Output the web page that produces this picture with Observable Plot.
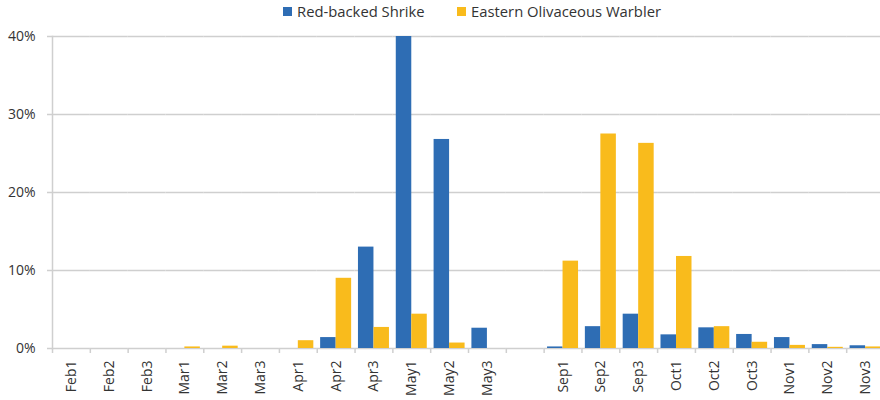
<!DOCTYPE html>
<html>
<head>
<meta charset="utf-8">
<script src="https://cdn.jsdelivr.net/npm/d3@7"></script>
<script src="https://cdn.jsdelivr.net/npm/@observablehq/plot@0.6"></script>
<style>
  html, body { margin: 0; padding: 0; background: #fff; }
  body { width: 880px; height: 400px; overflow: hidden; font-family: "Open Sans", sans-serif; color: #333; }
  #legend { height: 20px; position: relative; font-size: 14.8px; }
  .item { position: absolute; top: 2px; line-height: 18px; display: flex; align-items: center; white-space: nowrap; }
  .sw { width: 9px; height: 9px; margin-right: 5px; }
</style>
</head>
<body>
<div id="legend"></div>
<div id="chart"></div>
<script>
// Categories (ten-day periods); "" is the gap between spring and autumn
const categories = ["Feb1","Feb2","Feb3","Mar1","Mar2","Mar3","Apr1","Apr2","Apr3","May1","May2","May3","",
                    "Sep1","Sep2","Sep3","Oct1","Oct2","Oct3","Nov1","Nov2","Nov3"];
const speciesNames = ["Red-backed Shrike", "Eastern Olivaceous Warbler"];
const speciesColors = ["#2e6db4", "#f9bb1c"];
// Percent of captures per period (null = gap)
const shrikeValues = [0, 0, 0, 0, 0, 0, 0, 1.4, 13.0, 40.0, 26.8, 2.6, null,
                      0.2, 2.8, 4.4, 1.75, 2.65, 1.8, 1.4, 0.5, 0.35];
const warblerValues = [0, 0, 0, 0.2, 0.3, 0, 1.0, 9.0, 2.7, 4.4, 0.7, 0, null,
                       11.2, 27.5, 26.3, 11.8, 2.8, 0.8, 0.4, 0.15, 0.2];
const yTicks = [0, 0.1, 0.2, 0.3, 0.4];

const rows = [];
categories.forEach((c, i) => {
  rows.push({cat: c, species: speciesNames[0], value: shrikeValues[i] == null ? null : shrikeValues[i] / 100});
  rows.push({cat: c, species: speciesNames[1], value: warblerValues[i] == null ? null : warblerValues[i] / 100});
});

// legend
const legend = document.getElementById("legend");
const legendX = [283, 457];
speciesNames.forEach((s, i) => {
  const it = document.createElement("div");
  it.className = "item";
  it.style.left = legendX[i] + "px";
  const sw = document.createElement("span");
  sw.className = "sw";
  sw.style.background = speciesColors[i];
  it.appendChild(sw);
  it.appendChild(document.createTextNode(s));
  legend.appendChild(it);
});

const gridColor = "#cfcfcf";
const chart = Plot.plot({
  width: 880,
  height: 380,
  marginTop: 16,
  marginBottom: 52,
  marginLeft: 52,
  marginRight: 0,
  style: {fontFamily: "'Open Sans', sans-serif", fontSize: "14px", color: "#333", background: "transparent"},
  fx: {domain: categories, padding: 0, round: false, label: null, range: [52, 884]},
  x: {domain: speciesNames, paddingInner: 0, paddingOuter: 0.22, round: false, axis: null},
  y: {domain: [0, 0.4], label: null},
  color: {domain: speciesNames, range: speciesColors},
  marks: [
    Plot.gridY(yTicks, {stroke: gridColor, strokeOpacity: 1, strokeWidth: 1.5}),
    Plot.frame({anchor: "left", facetAnchor: "left", stroke: gridColor, strokeWidth: 1.5}),
    Plot.axisY({ticks: yTicks, tickSize: 5, tickPadding: 12, tickFormat: d3.format(".0%"),
                stroke: gridColor, strokeOpacity: 1, strokeWidth: 1.5, fill: "#333", label: null, fontSize: 14}),
    Plot.axisFx({anchor: "bottom", tickSize: 5, tickFormat: () => "", stroke: gridColor, strokeOpacity: 1, strokeWidth: 1.5, dx: -18.9, label: null}),
    Plot.axisFx({anchor: "bottom", tickSize: 0, tickPadding: 12, tickRotate: -90, fill: "#333", fontSize: 14, label: null}),
    Plot.barY(rows, {fx: "cat", x: "species", y: "value", fill: "species"})
  ]
});
document.getElementById("chart").appendChild(chart);
</script>
</body>
</html>
